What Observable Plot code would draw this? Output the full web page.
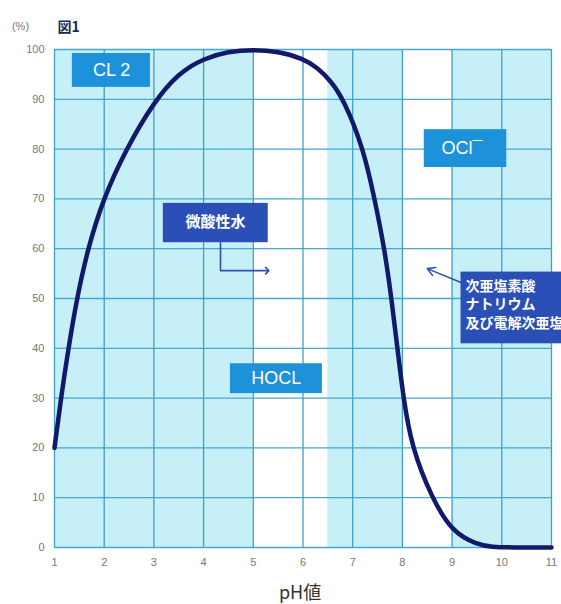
<!DOCTYPE html>
<html>
<head>
<meta charset="utf-8">
<script src="https://cdn.jsdelivr.net/npm/d3@7"></script>
<script src="https://cdn.jsdelivr.net/npm/@observablehq/plot@0.6"></script>
<style>
  html, body { margin: 0; padding: 0; background: #ffffff; overflow: hidden; }
  #chart { width: 561px; height: 604px; }
  g[aria-label="note-right"] text { letter-spacing: 3px; }
  g[aria-label="label-jp"] text { letter-spacing: 1px; }
</style>
</head>
<body>
<div id="chart"></div>
<script>
// ---- data ----
const xTicks = [1, 2, 3, 4, 5, 6, 7, 8, 9, 10, 11];
const yTicks = [0, 10, 20, 30, 40, 50, 60, 70, 80, 90, 100];

// shaded (cyan) pH bands
const bandStart = [1, 6.5, 9];
const bandEnd = [5, 8, 11];

// curve: pH vs %
const pH =  [1, 1.13, 1.28, 1.45, 1.67, 1.98, 2.44, 3.0, 3.5, 4.0, 4.5, 5.0, 5.5, 6.0, 6.3, 6.55, 6.82, 7.22, 7.44, 7.64, 7.78, 7.9, 8.02, 8.19, 8.59, 9.0, 9.5, 9.8, 10.2, 11];
const pct = [20, 30, 40, 50, 60, 70, 80, 89.5, 95.3, 98.2, 99.6, 100, 99.6, 98.2, 96.3, 93.8, 90, 80, 70, 60, 50, 40, 30, 20, 10, 3.1, 0.6, 0.1, 0, 0];

// label boxes (data units)
const boxText = ["CL 2", "OCl\u00AF", "HOCL", "微酸性水", ""];
const boxX1 = [1.36, 8.44, 4.54, 3.19, 9.18];
const boxX2 = [2.93, 10.1, 6.39, 5.30, 11.6];
const boxY1 = [92.4, 76.3, 30.9, 61.2, 40.9];
const boxY2 = [99.2, 83.9, 36.9, 69.1, 55.3];
const boxFill = ["#1d92da", "#1d92da", "#1d92da", "#2a50b8", "#2a50b8"];
const boxTextX = [2.15, 9.2, 5.46];
const boxTextY = [95.8, 80.1, 33.9];

const jpLabel = "微酸性水";
const jpX = [4.24], jpY = [65.3];

const noteRight = "次亜塩素酸\nナトリウム\n及び電解次亜塩素酸水";
const noteX = [9.27];
const noteY = [49.0];

// arrow from 微酸性水 (elbow)
const elbowX = [4.34, 4.34, 5.28];
const elbowY = [61.2, 55.6, 55.6];
// arrow from right note
const arrowX1 = [9.18], arrowY1 = [53.2], arrowX2 = [8.50], arrowY2 = [56.0];

// ---- build ----
const bands = bandStart.map((s, i) => ({x1: s, x2: bandEnd[i]}));
const curve = pH.map((x, i) => ({x, y: pct[i]}));
const boxes = boxText.map((t, i) => ({t, x1: boxX1[i], x2: boxX2[i], y1: boxY1[i], y2: boxY2[i], fill: boxFill[i]}));
const labels = boxTextX.map((x, i) => ({t: boxText[i], x, y: boxTextY[i]}));
const elbow = elbowX.map((x, i) => ({x, y: elbowY[i]}));
const arrows = arrowX1.map((x, i) => ({x1: x, y1: arrowY1[i], x2: arrowX2[i], y2: arrowY2[i]}));

const gridColor = "#45a8cf";
const navy = "#2a50b8";
const jpFont = "'Noto Sans CJK JP', sans-serif";

const chart = Plot.plot({
  width: 561,
  height: 604,
  marginLeft: 54,
  marginRight: 10,
  marginTop: 49,
  marginBottom: 57,
  style: {background: "transparent", fontFamily: "'Liberation Sans', Arial, sans-serif", overflow: "hidden"},
  x: {domain: [1, 11], label: null},
  y: {domain: [0, 100], label: null},
  marks: [
    Plot.rect(bands, {x1: "x1", x2: "x2", y1: 0, y2: 100, fill: "#c6eff7"}),
    Plot.ruleY(yTicks, {stroke: gridColor, strokeWidth: 1.3}),
    Plot.ruleX(xTicks, {stroke: "#3f9fcb", strokeWidth: 1.3}),
    Plot.line(curve, {x: "x", y: "y", stroke: "#12196b", strokeWidth: 4.5, curve: "basis"}),
    Plot.rect(boxes, {x1: "x1", x2: "x2", y1: "y1", y2: "y2", fill: "fill"}),
    Plot.text(labels, {x: "x", y: "y", text: "t", fill: "white", fontSize: 18}),
    Plot.text(jpX.map((x, i) => ({x, y: jpY[i]})), {x: "x", y: "y", text: () => jpLabel, fill: "white",
      fontSize: 15, fontWeight: "bold", fontFamily: jpFont, ariaLabel: "label-jp"}),
    Plot.text(noteX.map((x, i) => ({x, y: noteY[i]})), {x: "x", y: "y", text: () => noteRight, fill: "white",
      fontSize: 14, fontWeight: "bold", textAnchor: "start", lineHeight: 1.32,
      fontFamily: jpFont, ariaLabel: "note-right"}),
    Plot.line(elbow, {x: "x", y: "y", stroke: navy, strokeWidth: 1.6, markerEnd: "arrow", curve: "linear"}),
    Plot.arrow(arrows, {x1: "x1", y1: "y1", x2: "x2", y2: "y2", stroke: navy, strokeWidth: 1.6, headLength: 8}),
    Plot.axisX({ticks: xTicks, tickSize: 0, tickPadding: 11, fill: "#777", fontSize: 11, label: null, tickFormat: d => String(d)}),
    Plot.axisY({ticks: yTicks, tickSize: 0, tickPadding: 10, fill: "#777", fontSize: 11, label: null}),
    Plot.text(["(%)"], {frameAnchor: "top-left", dx: -34, dy: -27, fill: "#777", fontSize: 11, textAnchor: "middle"}),
    Plot.text(["図1"], {frameAnchor: "top-left", dx: 3, dy: -27, fill: "#1b2a5c", fontSize: 14, fontWeight: "bold", textAnchor: "start",
      fontFamily: jpFont}),
    Plot.text(["pH値"], {frameAnchor: "bottom", dx: -3, dy: 51, fill: "#333", fontSize: 18, fontFamily: jpFont})
  ]
});
document.getElementById("chart").appendChild(chart);
</script>
</body>
</html>
